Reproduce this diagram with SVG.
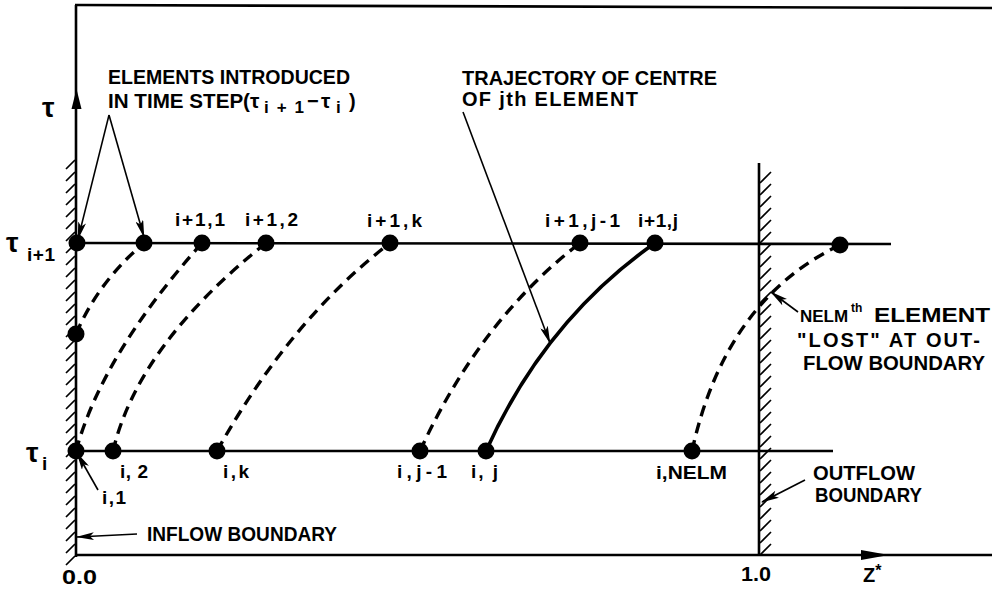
<svg xmlns="http://www.w3.org/2000/svg" width="992" height="590" viewBox="0 0 992 590">
<style>
.ax{stroke:#000;stroke-width:2.6;fill:none}
.hat{stroke:#000;stroke-width:1.7;fill:none}
.dash{stroke:#000;stroke-width:3.4;fill:none;stroke-dasharray:11 7}
.solid{stroke:#000;stroke-width:3.6;fill:none}
.ptr{stroke:#000;stroke-width:1.6;fill:none}
.dot{fill:#000}
text{font-family:"Liberation Sans",Arial,sans-serif;font-weight:bold;fill:#000}
.t{font-size:20px}
.lb{font-size:19px}
.sym{font-size:28px}
</style>
<defs>
<marker id="ah" viewBox="0 0 18 8" refX="17" refY="4" markerWidth="18" markerHeight="8" markerUnits="userSpaceOnUse" orient="auto">
<path d="M0,0 L18,4 L0,8 L4,4 z" fill="#000"/>
</marker>
</defs>

<g id="axes">
<line class="ax" x1="75" y1="5" x2="992" y2="8"/>
<line class="ax" x1="76" y1="5" x2="76" y2="557"/>
<line class="ax" x1="75" y1="555" x2="992" y2="555"/>
<polygon points="76.5,89 71.5,109 81.5,109" fill="#000"/>
<polygon points="889,555 861,550 861,560" fill="#000"/>
<line class="ax" x1="75" y1="243" x2="891" y2="244"/>
<line class="ax" x1="75" y1="451" x2="833" y2="451"/>
<line class="ax" x1="759" y1="163" x2="759" y2="555"/>
</g>

<g id="inflow-hatching">
<path class="hat" d="M66,169 L75,160 M66,181 L75,172 M66,193 L75,184 M66,205 L75,196 M66,217 L75,208 M66,229 L75,220 M66,241 L75,232 M66,253 L75,244 M66,265 L75,256 M66,277 L75,268 M66,289 L75,280 M66,301 L75,292 M66,313 L75,304 M66,325 L75,316 M66,337 L75,328 M66,349 L75,340 M66,361 L75,352 M66,373 L75,364 M66,385 L75,376 M66,397 L75,388 M66,409 L75,400 M66,421 L75,412 M66,433 L75,424 M66,445 L75,436 M66,457 L75,448 M66,469 L75,460 M66,481 L75,472 M66,493 L75,484 M66,505 L75,496 M66,517 L75,508 M66,529 L75,520 M66,541 L75,532 M66,553 L75,544 M66,565 L75,556"/>
</g>

<g id="outflow-hatching">
<path class="hat" d="M760,183 L771,172 M760,195 L771,184 M760,207 L771,196 M760,219 L771,208 M760,231 L771,220 M760,243 L771,232 M760,255 L771,244 M760,267 L771,256 M760,279 L771,268 M760,291 L771,280 M760,303 L771,292 M760,315 L771,304 M760,327 L771,316 M760,339 L771,328 M760,351 L771,340 M760,363 L771,352 M760,375 L771,364 M760,387 L771,376 M760,399 L771,388 M760,411 L771,400 M760,423 L771,412 M760,435 L771,424 M760,447 L771,436 M760,459 L771,448 M760,471 L771,460 M760,483 L771,472 M760,495 L771,484 M760,507 L771,496 M760,519 L771,508 M760,531 L771,520 M760,543 L771,532 M760,555 L771,544"/>
</g>

<g id="connectors">
<path class="dash" d="M76,334 Q98,282 144,243"/>
<path class="dash" d="M76,451 Q102,355 202,243"/>
<path class="dash" d="M113,451 Q138,345 266,243"/>
<path class="dash" d="M217,451 Q290,320 390,243"/>
<path class="dash" d="M420,451 Q480,320 580,243"/>
<path class="solid" d="M486,451 Q545,320 655,243"/>
<path class="dash" d="M692,451 Q725,300 840,245"/>
<line class="ptr" x1="109" y1="115" x2="78" y2="239" marker-end="url(#ah)"/>
<line class="ptr" x1="109" y1="115" x2="144" y2="237" marker-end="url(#ah)"/>
<line class="ptr" x1="463" y1="112" x2="550" y2="343" marker-end="url(#ah)"/>
<line class="ptr" x1="98" y1="490" x2="77" y2="453" marker-end="url(#ah)"/>
<line class="ptr" x1="137" y1="534" x2="77" y2="537" marker-end="url(#ah)"/>
<line class="ptr" x1="798" y1="312" x2="771" y2="292" marker-end="url(#ah)"/>
<line class="ptr" x1="805" y1="480" x2="762" y2="502" marker-end="url(#ah)"/>
</g>

<g id="nodes-upper">
<circle id="n-i1-0" class="dot" cx="77" cy="243" r="8.5"/>
<circle id="n-i1-a" class="dot" cx="144" cy="243" r="8.5"/>
<circle id="n-i1-1" class="dot" cx="202" cy="243" r="8.5"/>
<circle id="n-i1-2" class="dot" cx="266" cy="243" r="8.5"/>
<circle id="n-i1-k" class="dot" cx="390" cy="243" r="8.5"/>
<circle id="n-i1-j1" class="dot" cx="580" cy="243" r="8.5"/>
<circle id="n-i1-j" class="dot" cx="655" cy="243" r="8.5"/>
<circle id="n-lost" class="dot" cx="840" cy="245" r="8.5"/>
<circle id="n-axis" class="dot" cx="76" cy="334" r="8.5"/>
</g>
<g id="nodes-lower">
<circle id="n-i-1" class="dot" cx="76" cy="451" r="8.5"/>
<circle id="n-i-2" class="dot" cx="113" cy="451" r="8.5"/>
<circle id="n-i-k" class="dot" cx="217" cy="451" r="8.5"/>
<circle id="n-i-j1" class="dot" cx="420" cy="451" r="8.5"/>
<circle id="n-i-j" class="dot" cx="486" cy="451" r="8.5"/>
<circle id="n-i-nelm" class="dot" cx="692" cy="451" r="8.5"/>
</g>

<g id="labels">
<text class="t" x="108" y="84" textLength="242" lengthAdjust="spacingAndGlyphs">ELEMENTS INTRODUCED</text>
<text class="t" x="108" y="108"><tspan textLength="142" lengthAdjust="spacingAndGlyphs">IN TIME STEP(</tspan><tspan x="250" font-size="21">τ</tspan><tspan x="264" font-size="17" dy="5" textLength="40" lengthAdjust="spacing">i+1</tspan><tspan x="307" dy="-5">−</tspan><tspan x="321" font-size="21">τ</tspan><tspan x="336" font-size="17" dy="5">i</tspan><tspan x="349" dy="-5">)</tspan></text>
<text class="t" x="462" y="85" textLength="255" lengthAdjust="spacingAndGlyphs">TRAJECTORY OF CENTRE</text>
<text class="t" x="462" y="106" textLength="176" lengthAdjust="spacing">OF jth ELEMENT</text>
<text class="t" x="147" y="541" textLength="190" lengthAdjust="spacingAndGlyphs">INFLOW BOUNDARY</text>
<text x="800" y="322"><tspan font-size="17">NELM</tspan><tspan x="851" dy="-10" font-size="12">th</tspan><tspan x="874" dy="10" font-size="20" textLength="116" lengthAdjust="spacingAndGlyphs">ELEMENT</tspan></text>
<text class="t" x="797" y="347" textLength="183" lengthAdjust="spacing">"LOST" AT OUT-</text>
<text class="t" x="803" y="370" textLength="182" lengthAdjust="spacingAndGlyphs">FLOW BOUNDARY</text>
<text class="t" x="813" y="480" textLength="102" lengthAdjust="spacingAndGlyphs">OUTFLOW</text>
<text class="t" x="815" y="502" textLength="107" lengthAdjust="spacingAndGlyphs">BOUNDARY</text>
<text class="t" x="62" y="584" textLength="35" lengthAdjust="spacingAndGlyphs">0.0</text>
<text class="t" x="741" y="581" textLength="30" lengthAdjust="spacingAndGlyphs">1.0</text>
<text class="t" x="863" y="582">Z<tspan font-size="16" dy="-6">*</tspan></text>
<text class="sym" x="42" y="117" font-size="24">τ</text>
<text class="sym" x="6" y="252">τ</text>
<text class="lb" x="27" y="261" textLength="28" lengthAdjust="spacing">i+1</text>
<text class="sym" x="26" y="462" font-size="25">τ</text>
<text class="lb" x="42" y="470">i</text>
<text class="lb" x="175" y="226" textLength="50" lengthAdjust="spacing">i+1,1</text>
<text class="lb" x="245" y="226" textLength="53" lengthAdjust="spacing">i+1,2</text>
<text class="lb" x="367" y="227" textLength="55" lengthAdjust="spacing">i+1,k</text>
<text class="lb" x="545" y="227" textLength="75" lengthAdjust="spacing">i+1,j-1</text>
<text class="lb" x="638" y="227" textLength="40" lengthAdjust="spacing">i+1,j</text>
<text class="lb" x="120" y="478" textLength="28" lengthAdjust="spacing">i, 2</text>
<text class="lb" x="223" y="478" textLength="26" lengthAdjust="spacing">i,k</text>
<text class="lb" x="102" y="504" textLength="24" lengthAdjust="spacing">i,1</text>
<text class="lb" x="397" y="478" textLength="50" lengthAdjust="spacing">i,j-1</text>
<text class="lb" x="471" y="478" textLength="27" lengthAdjust="spacing">i, j</text>
<text class="lb" x="656" y="479" textLength="71" lengthAdjust="spacingAndGlyphs">i,NELM</text>
</g>
</svg>
